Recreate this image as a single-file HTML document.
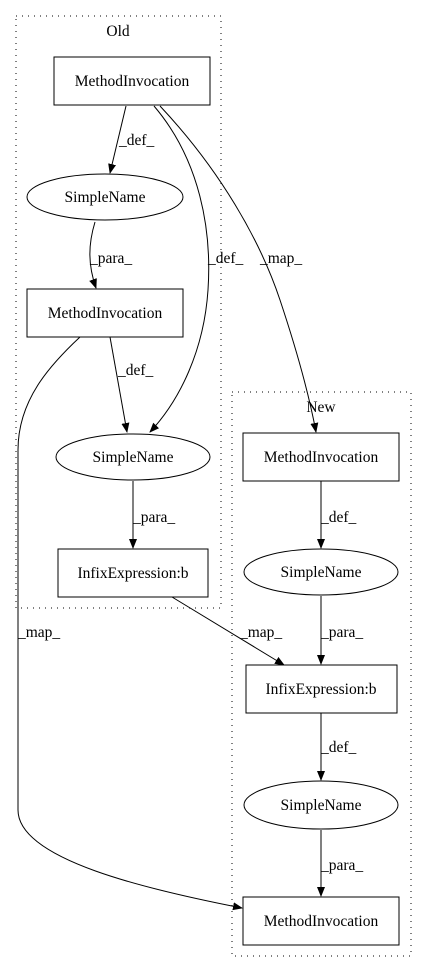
<!DOCTYPE html>
<html><head><meta charset="utf-8"><style>
body{margin:0;background:#fff}
svg{display:block}
text{font-family:"Liberation Serif","DejaVu Serif",serif;font-size:15.5px;fill:#000}
</style></head><body>
<svg width="427" height="972" viewBox="0 0 427 972" font-family="Liberation Serif, DejaVu Serif, serif">
<defs><marker id="ah" markerWidth="10" markerHeight="8" refX="9" refY="4" orient="auto" markerUnits="userSpaceOnUse"><path d="M0,0 L10,4 L0,8 Z" fill="#000"/></marker></defs>
<g>
<rect x="16" y="16" width="205" height="592" fill="none" stroke="#000" stroke-dasharray="1,5"/>
<text x="118" y="36" text-anchor="middle">Old</text></g>
<g>
<rect x="232" y="392" width="179" height="564" fill="none" stroke="#000" stroke-dasharray="1,5"/>
<text x="321" y="412" text-anchor="middle">New</text></g>
<g fill="none" stroke="#000" stroke-width="1" marker-end="url(#ah)">
<path d="M126,106 L110,173"/>
<path d="M95,222 C88,245 88,265 96,288"/>
<path d="M154,106 C200,160 212,230 208,290 C204,350 180,400 150,432"/>
<path d="M160,106 C220,170 260,240 280,300 C300,360 310,400 316,432"/>
<path d="M110,337 L127,432"/>
<path d="M80,337 C50,365 18,400 18,450 L18,810 C18,860 150,890 242,908"/>
<path d="M133,481 L133,548"/>
<path d="M172,597 L284,665"/>
<path d="M321,481 L321,548"/>
<path d="M321,596 L321,664"/>
<path d="M321,713 L321,780"/>
<path d="M321,830 L321,896"/>
</g>
<g>
<text x="119" y="145">_def_</text>
<text x="90" y="263">_para_</text>
<text x="208" y="263">_def_</text>
<text x="260" y="263">_map_</text>
<text x="118" y="375">_def_</text>
<text x="133" y="522">_para_</text>
<text x="18" y="637">_map_</text>
<text x="240" y="637">_map_</text>
<text x="321" y="522">_def_</text>
<text x="321" y="637">_para_</text>
<text x="321" y="752">_def_</text>
<text x="321" y="870">_para_</text>
</g>
<g fill="#fff" stroke="#000">
<rect x="54" y="57" width="156" height="48"/>
<ellipse cx="105" cy="197" rx="78" ry="23"/>
<rect x="27" y="289" width="156" height="48"/>
<ellipse cx="133" cy="457" rx="77" ry="23"/>
<rect x="58" y="549" width="150" height="48"/>
<rect x="243" y="433" width="156" height="48"/>
<ellipse cx="321" cy="572" rx="77" ry="23"/>
<rect x="246" y="665" width="151" height="48"/>
<ellipse cx="321" cy="805" rx="77" ry="24"/>
<rect x="243" y="897" width="156" height="48"/>
</g>
<g text-anchor="middle">
<text x="132" y="86">MethodInvocation</text>
<text x="105" y="202">SimpleName</text>
<text x="105" y="318">MethodInvocation</text>
<text x="133" y="462">SimpleName</text>
<text x="133" y="578">InfixExpression:b</text>
<text x="321" y="462">MethodInvocation</text>
<text x="321" y="577">SimpleName</text>
<text x="321" y="694">InfixExpression:b</text>
<text x="321" y="810">SimpleName</text>
<text x="321" y="926">MethodInvocation</text>
</g>
</svg>
</body></html>
